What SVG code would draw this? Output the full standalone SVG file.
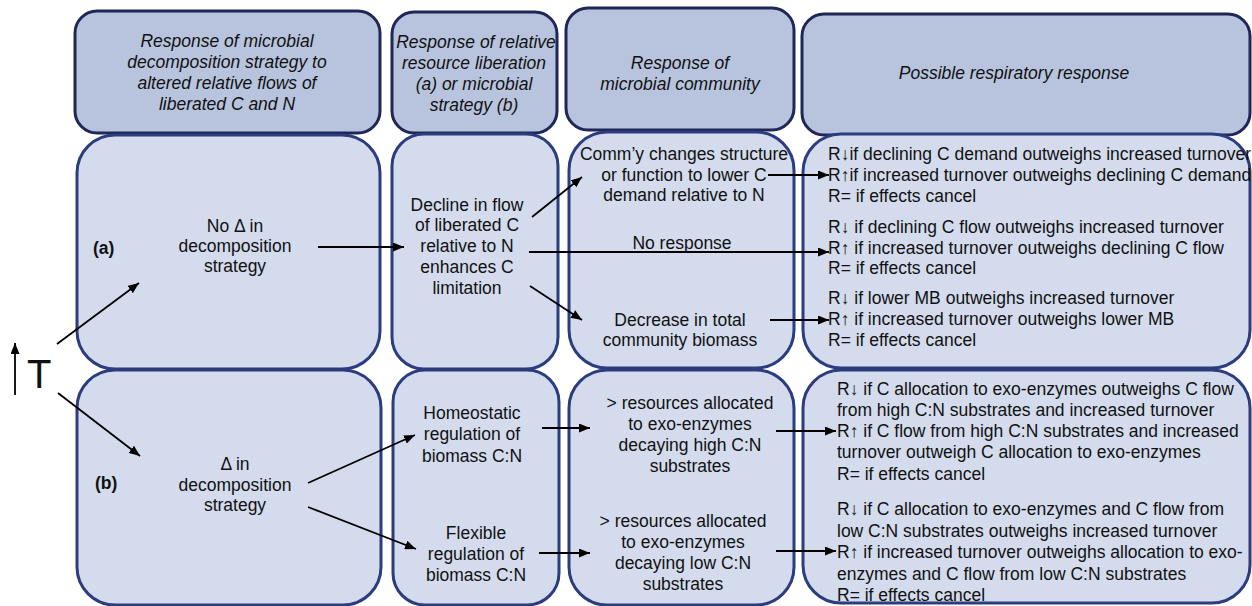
<svg xmlns="http://www.w3.org/2000/svg" width="1252" height="606" viewBox="0 0 1252 606">
<style>
.hd{fill:#b8c4de;stroke:#1e2756;stroke-width:3}
.bd{fill:#d3dbec;stroke:#2b3d7e;stroke-width:3}
text{font-family:"Liberation Sans",Arial,sans-serif;font-size:17.5px;fill:#111}
.it{font-style:italic}
.c{text-anchor:middle}
.b{font-weight:bold}
.ar{stroke:#000;stroke-width:1.8;fill:none;marker-end:url(#ah)}
</style>
<defs>
<marker id="ah" markerUnits="userSpaceOnUse" markerWidth="11" markerHeight="9" refX="11" refY="4.5" orient="auto">
<path d="M0,0 L11,4.5 L0,9 z" fill="#000"/>
</marker>
</defs>
<rect width="1252" height="606" fill="#fff"/>

<g id="h1"><rect class="hd" x="75" y="11" width="305" height="122" rx="22"/>
<text class="it c" x="227" y="47">Response of microbial</text>
<text class="it c" x="227" y="68">decomposition strategy to</text>
<text class="it c" x="227" y="89">altered relative flows of</text>
<text class="it c" x="227" y="110">liberated C and N</text></g>
<g id="h2"><rect class="hd" x="392" y="12" width="165" height="121" rx="22"/>
<text class="it c" x="476" y="48">Response of relative</text>
<text class="it c" x="474" y="69">resource liberation</text>
<text class="it c" x="474" y="90">(a) or microbial</text>
<text class="it c" x="474" y="111">strategy (b)</text></g>
<g id="h3"><rect class="hd" x="566" y="8" width="228" height="122" rx="22"/>
<text class="it c" x="680" y="69">Response of</text>
<text class="it c" x="680" y="90">microbial community</text></g>
<g id="h4"><rect class="hd" x="802" y="14" width="448" height="121" rx="22"/>
<text class="it c" x="1014" y="79">Possible respiratory response</text></g>

<g id="a1"><rect class="bd" x="77" y="135" width="303" height="234" rx="38"/>
<text class="b" x="93" y="254">(a)</text>
<text class="c" x="235" y="232">No Δ in</text>
<text class="c" x="235" y="252">decomposition</text>
<text class="c" x="235" y="272">strategy</text></g>
<g id="a2"><rect class="bd" x="392" y="134" width="166" height="235" rx="32"/>
<text class="c" x="467" y="211">Decline in flow</text>
<text class="c" x="467" y="231">of liberated C</text>
<text class="c" x="467" y="252">relative to N</text>
<text class="c" x="467" y="273">enhances C</text>
<text class="c" x="467" y="294">limitation</text></g>
<g id="a3"><rect class="bd" x="569" y="132" width="225" height="236" rx="38"/>
<text class="c" x="684" y="160">Comm’y changes structure</text>
<text class="c" x="684" y="181">or function to lower C</text>
<text class="c" x="684" y="201">demand relative to N</text>
<text class="c" x="682" y="249">No response</text>
<text class="c" x="680" y="326">Decrease in total</text>
<text class="c" x="680" y="346">community biomass</text></g>
<g id="a4"><rect class="bd" x="803" y="134" width="447" height="234" rx="38"/>
<text x="828" y="160">R↓if declining C demand outweighs increased turnover</text>
<text x="828" y="181">R↑if increased turnover outweighs declining C demand</text>
<text x="828" y="202">R= if effects cancel</text>
<text x="828" y="233">R↓ if declining C flow outweighs increased turnover</text>
<text x="828" y="254">R↑ if increased turnover outweighs declining C flow</text>
<text x="828" y="274">R= if effects cancel</text>
<text x="828" y="304">R↓ if lower MB outweighs increased turnover</text>
<text x="828" y="325">R↑ if increased turnover outweighs lower MB</text>
<text x="828" y="346">R= if effects cancel</text></g>

<g id="b1"><rect class="bd" x="77" y="370" width="304" height="235" rx="38"/>
<text class="b" x="95" y="489">(b)</text>
<text class="c" x="235" y="470">Δ in</text>
<text class="c" x="235" y="491">decomposition</text>
<text class="c" x="235" y="511">strategy</text></g>
<g id="b2"><rect class="bd" x="393" y="370" width="166" height="235" rx="32"/>
<text class="c" x="472" y="419">Homeostatic</text>
<text class="c" x="472" y="440">regulation of</text>
<text class="c" x="472" y="462">biomass C:N</text>
<text class="c" x="476" y="539">Flexible</text>
<text class="c" x="476" y="560">regulation of</text>
<text class="c" x="476" y="581">biomass C:N</text></g>
<g id="b3"><rect class="bd" x="569" y="370" width="225" height="235" rx="38"/>
<text class="c" x="690" y="409">&gt; resources allocated</text>
<text class="c" x="690" y="430">to exo-enzymes</text>
<text class="c" x="690" y="451">decaying high C:N</text>
<text class="c" x="690" y="472">substrates</text>
<text class="c" x="683" y="527">&gt; resources allocated</text>
<text class="c" x="683" y="548">to exo-enzymes</text>
<text class="c" x="683" y="569">decaying low C:N</text>
<text class="c" x="683" y="590">substrates</text></g>
<g id="b4"><rect class="bd" x="803" y="370" width="447" height="233" rx="38"/>
<text x="837" y="395">R↓ if C allocation to exo-enzymes outweighs C flow</text>
<text x="837" y="416">from high C:N substrates and increased turnover</text>
<text x="837" y="437">R↑ if C flow from high C:N substrates and increased</text>
<text x="837" y="458">turnover outweigh C allocation to exo-enzymes</text>
<text x="837" y="480">R= if effects cancel</text>
<text x="837" y="515">R↓ if C allocation to exo-enzymes and C flow from</text>
<text x="837" y="537">low C:N substrates outweighs increased turnover</text>
<text x="837" y="558">R↑ if increased turnover outweighs allocation to exo-</text>
<text x="837" y="580">enzymes and C flow from low C:N substrates</text>
<text x="837" y="601">R= if effects cancel</text></g>

<g id="t"><text x="27" y="388" style="font-size:40px">T</text></g>

<g id="connectors">
<line class="ar" x1="15" y1="395" x2="15" y2="343"/>
<line class="ar" x1="57" y1="344" x2="139" y2="283"/>
<line class="ar" x1="58" y1="393" x2="140" y2="456"/>
<line class="ar" x1="318" y1="247" x2="404" y2="247"/>
<line class="ar" x1="532" y1="217" x2="582" y2="177"/>
<line class="ar" x1="530" y1="286" x2="582" y2="320"/>
<line class="ar" x1="529" y1="252" x2="829" y2="252"/>
<line class="ar" x1="768" y1="175" x2="829" y2="175"/>
<line class="ar" x1="770" y1="320" x2="829" y2="320"/>
<line class="ar" x1="308" y1="483" x2="415" y2="435"/>
<line class="ar" x1="308" y1="507" x2="416" y2="549"/>
<line class="ar" x1="542" y1="428" x2="590" y2="428"/>
<line class="ar" x1="539" y1="553" x2="590" y2="553"/>
<line class="ar" x1="776" y1="431" x2="836" y2="431"/>
<line class="ar" x1="776" y1="551" x2="836" y2="551"/>
</g>
</svg>
